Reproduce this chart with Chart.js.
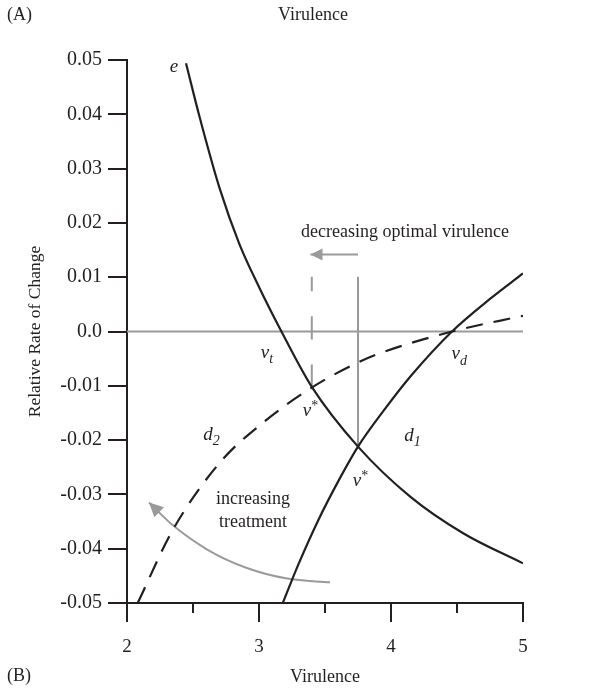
<!DOCTYPE html>
<html>
<head>
<meta charset="utf-8">
<script src="https://cdn.jsdelivr.net/npm/chart.js@4.4.0/dist/chart.umd.min.js"></script>
<style>
  html, body { margin: 0; padding: 0; background: #fff; }
  #wrap { width: 591px; height: 689px; position: relative; }
</style>
</head>
<body>
<div id="wrap"><canvas id="virulenceChart"></canvas></div>
<script>
// --- data ---
const eX  = [2.447, 2.55, 2.70, 2.85, 3.00, 3.17, 3.40, 3.75, 4.15, 4.55, 5.0];
const eY  = [0.0494, 0.0395, 0.0265, 0.0162, 0.0082, 0.0, -0.0102, -0.0212, -0.0305, -0.0372, -0.0427];

const d1X = [3.182, 3.30, 3.45, 3.60, 3.75, 3.95, 4.15, 4.462, 4.75, 5.0];
const d1Y = [-0.0499, -0.0428, -0.0347, -0.0276, -0.0212, -0.0144, -0.0082, 0.0, 0.0060, 0.0107];

const d2X = [2.083, 2.348, 2.705, 3.030, 3.402, 3.750, 3.917, 4.462, 5.0];
const d2Y = [-0.0499, -0.0365, -0.0241, -0.0168, -0.0103, -0.0057, -0.0040, 0.0, 0.0029];

const zeroX = [2, 5];
const zeroY = [0, 0];

const optX = [3.75, 3.75];          // v* before treatment
const optY = [0.0101, -0.0212];
const optNewX = [3.40, 3.40];       // v* after treatment (drawn from bottom up)
const optNewY = [-0.0103, 0.0101];

const shiftX = [3.75, 3.39];        // "decreasing optimal virulence" arrow
const shiftY = [0.0142, 0.0142];

const treatX = [3.538, 3.214, 2.903, 2.611, 2.348, 2.167];   // "increasing treatment" arrow
const treatY = [-0.0462, -0.0455, -0.0435, -0.0402, -0.0357, -0.0315];

const xTicks = [2, 3, 4, 5];
const xMinorTicks = [2.5, 3.5, 4.5];
const yTicks = [-0.05, -0.04, -0.03, -0.02, -0.01, 0, 0.01, 0.02, 0.03, 0.04, 0.05];
const yTickLabels = ['-0.05', '-0.04', '-0.03', '-0.02', '-0.01', '0.0', '0.01', '0.02', '0.03', '0.04', '0.05'];

const INK = '#231f20';
const GREY = '#9a9a9a';
const SERIF = '"Liberation Serif", "DejaVu Serif", serif';

function pts(xs, ys) {
    return xs.map((x, i) => ({ x: x, y: ys[i] }));
}

function line(data, color, opts) {
    return Object.assign({
        data: data,
        borderColor: color,
        borderWidth: 2.2,
        pointRadius: 0,
        fill: false,
        tension: 0,
        cubicInterpolationMode: 'monotone'
    }, opts || {});
}

// arrow heads, minor ticks, curve labels and the panel texts
const decorPlugin = {
    id: 'decor',
    afterDatasetsDraw(chart) {
        const ctx = chart.ctx;
        const xs = chart.scales.x, ys = chart.scales.y;
        const px = v => xs.getPixelForValue(v);
        const py = v => ys.getPixelForValue(v);

        function head(tipX, tipY, fromX, fromY, len, half) {
            const a = Math.atan2(tipY - fromY, tipX - fromX);
            ctx.save();
            ctx.fillStyle = GREY;
            ctx.beginPath();
            ctx.moveTo(tipX, tipY);
            ctx.lineTo(tipX - len * Math.cos(a) + half * Math.sin(a), tipY - len * Math.sin(a) - half * Math.cos(a));
            ctx.lineTo(tipX - len * Math.cos(a) - half * Math.sin(a), tipY - len * Math.sin(a) + half * Math.cos(a));
            ctx.closePath();
            ctx.fill();
            ctx.restore();
        }

        let n = shiftX.length;
        head(px(shiftX[n - 1]), py(shiftY[n - 1]), px(shiftX[n - 2]), py(shiftY[n - 2]), 12, 6);
        n = treatX.length;
        head(px(treatX[n - 1]), py(treatY[n - 1]), px(treatX[n - 2]), py(treatY[n - 2]), 14, 7);

        // minor ticks on the x axis
        ctx.save();
        ctx.strokeStyle = INK;
        ctx.lineWidth = 2;
        xMinorTicks.forEach(v => {
            ctx.beginPath();
            ctx.moveTo(px(v), chart.chartArea.bottom);
            ctx.lineTo(px(v), chart.chartArea.bottom + 10);
            ctx.stroke();
        });
        ctx.restore();

        // curve labels: [main, sub, sup, x, y]
        const labels = [
            ['e', '', '', 2.356, 0.0488],
            ['v', 't', '', 3.045, -0.0039],
            ['v', '', '*', 3.364, -0.0147],
            ['v', '', '*', 3.742, -0.0276],
            ['v', 'd', '', 4.490, -0.0042],
            ['d', '1', '', 4.136, -0.0192],
            ['d', '2', '', 2.614, -0.0190]
        ];
        ctx.save();
        ctx.fillStyle = INK;
        ctx.textBaseline = 'middle';
        labels.forEach(l => {
            const x = px(l[3]), y = py(l[4]);
            ctx.font = 'italic 19px ' + SERIF;
            ctx.textAlign = 'center';
            ctx.fillText(l[0], x, y);
            const w = ctx.measureText(l[0]).width;
            ctx.textAlign = 'left';
            if (l[1]) {
                ctx.font = 'italic 14px ' + SERIF;
                ctx.fillText(l[1], x + w / 2, y + 7);
            }
            if (l[2]) {
                ctx.font = '14px ' + SERIF;
                ctx.fillText(l[2], x + w / 2, y - 5);
            }
        });

        ctx.font = '18px ' + SERIF;
        ctx.textAlign = 'center';
        ctx.fillText('decreasing optimal virulence', px(4.106), py(0.0182));
        ctx.fillText('increasing', px(2.955), py(-0.0309));
        ctx.fillText('treatment', px(2.955), py(-0.0352));

        // panel texts
        ctx.fillText('Virulence', 313, 15);
        ctx.textAlign = 'left';
        ctx.fillText('(A)', 7, 15);
        ctx.fillText('(B)', 7, 676);
        ctx.restore();
    }
};

const chart = new Chart(document.getElementById('virulenceChart'), {
    type: 'line',
    data: {
        datasets: [
            line(pts(eX, eY), INK),
            line(pts(d1X, d1Y), INK),
            line(pts(d2X, d2Y), INK, { borderDash: [17, 11] }),
            line(pts(zeroX, zeroY), GREY, { borderWidth: 2 }),
            line(pts(optX, optY), GREY, { borderWidth: 2 }),
            line(pts(optNewX, optNewY), GREY, { borderWidth: 2, borderDash: [23, 25] }),
            line(pts(shiftX, shiftY), GREY, { borderWidth: 2 }),
            line(pts(treatX, treatY), GREY, { borderWidth: 2 })
        ]
    },
    options: {
        responsive: true,
        maintainAspectRatio: false,
        animation: false,
        layout: { padding: { left: 0, top: 60, right: 68, bottom: 0 } },
        plugins: {
            legend: { display: false },
            tooltip: { enabled: false },
            title: { display: false }
        },
        scales: {
            x: {
                type: 'linear',
                min: 2,
                max: 5,
                afterBuildTicks: s => { s.ticks = xTicks.map(v => ({ value: v })); },
                afterFit: s => { s.height = 86; },
                grid: { drawOnChartArea: false, drawTicks: true, tickLength: 19, color: INK, lineWidth: 2 },
                border: { display: true, color: INK, width: 2 },
                ticks: {
                    color: INK,
                    padding: 14,
                    maxRotation: 0,
                    font: { family: SERIF, size: 19 },
                    callback: v => String(v)
                },
                title: {
                    display: true,
                    text: 'Virulence',
                    color: INK,
                    font: { family: SERIF, size: 18 },
                    padding: { top: 0, bottom: 1 }
                }
            },
            y: {
                type: 'linear',
                min: -0.05,
                max: 0.05,
                afterBuildTicks: s => { s.ticks = yTicks.map(v => ({ value: v })); },
                afterFit: s => { s.width = 127; },
                grid: { drawOnChartArea: false, drawTicks: true, tickLength: 19, color: INK, lineWidth: 2 },
                border: { display: true, color: INK, width: 2 },
                ticks: {
                    color: INK,
                    padding: 6,
                    font: { family: SERIF, size: 20 },
                    callback: (v, i) => yTickLabels[i]
                },
                title: {
                    display: true,
                    text: 'Relative Rate of Change',
                    color: INK,
                    font: { family: SERIF, size: 17.5 },
                    padding: { top: 25, bottom: 0 }
                }
            }
        }
    },
    plugins: [decorPlugin]
});
</script>
</body>
</html>
